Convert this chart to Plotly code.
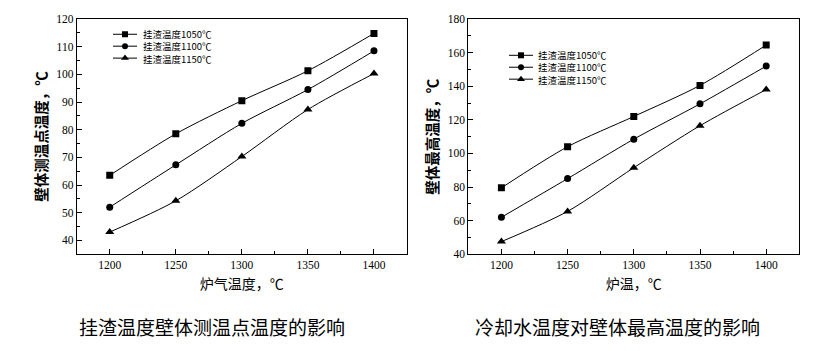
import plotly.graph_objects as go

# ---------------- data ----------------
furnace_temp = [1200, 1250, 1300, 1350, 1400]
series_names = ["挂渣温度1050℃", "挂渣温度1100℃", "挂渣温度1150℃"]

left_1050 = [63.5, 78.5, 90.5, 101.3, 114.8]
left_1100 = [52.0, 67.3, 82.3, 94.5, 108.5]
left_1150 = [43.0, 54.3, 70.3, 87.3, 100.3]

right_1050 = [79.5, 104.0, 122.0, 140.5, 164.5]
right_1100 = [62.0, 85.0, 108.5, 129.5, 152.0]
right_1150 = [47.5, 65.5, 91.5, 116.5, 138.0]

x_ticks = [1200, 1250, 1300, 1350, 1400]
left_y_ticks = [40, 50, 60, 70, 80, 90, 100, 110, 120]
right_y_ticks = [40, 60, 80, 100, 120, 140, 160, 180]

left_title_x = "炉气温度，℃"
left_title_y = "<b>壁体测温点温度，℃</b>"
right_title_x = "炉温，℃"
right_title_y = "<b>壁体最高温度，℃</b>"
caption_left = "挂渣温度壁体测温点温度的影响"
caption_right = "冷却水温度对壁体最高温度的影响"

# ---------------- styling ----------------
W, H = 825, 351
symbols = ["square", "circle", "triangle-up"]
msizes = [7, 7, 8]
tick_font = dict(family="Liberation Serif", size=11.5, color="black")
title_font = dict(family="Noto Sans CJK SC", size=14, color="black")
ytitle_font = dict(family="Noto Sans CJK SC", size=14.5, color="black")
CJK = "Noto Sans CJK SC"
LEG_FS = 9.5
LEG_LINE = LEG_FS * 1.3  # plotly line height for multi-line text

fig = go.Figure()

left_sets = [left_1050, left_1100, left_1150]
right_sets = [right_1050, right_1100, right_1150]

for i, ys in enumerate(left_sets):
    fig.add_trace(go.Scatter(
        x=furnace_temp, y=ys, mode="lines+markers", xaxis="x", yaxis="y",
        line=dict(color="black", width=1, shape="spline", smoothing=0.8),
        marker=dict(symbol=symbols[i], size=msizes[i], color="black"),
        showlegend=False, hoverinfo="skip"))
for i, ys in enumerate(right_sets):
    fig.add_trace(go.Scatter(
        x=furnace_temp, y=ys, mode="lines+markers", xaxis="x2", yaxis="y2",
        line=dict(color="black", width=1, shape="spline", smoothing=0.8),
        marker=dict(symbol=symbols[i], size=msizes[i], color="black"),
        showlegend=False, hoverinfo="skip"))

# ---------------- manual legends (pixel overlay axis) ----------------
legend_specs = [
    dict(x0=113, x1=137, ymid=41.6, tx=142),
    dict(x0=509, x1=533, ymid=63.4, tx=537),
]
for spec in legend_specs:
    for i, name in enumerate(series_names):
        yy = spec["ymid"] + (i - 1) * LEG_LINE
        fig.add_trace(go.Scatter(
            x=[spec["x0"], spec["x1"]], y=[yy, yy], mode="lines",
            xaxis="x3", yaxis="y3", line=dict(color="black", width=1),
            showlegend=False, hoverinfo="skip"))
        fig.add_trace(go.Scatter(
            x=[(spec["x0"] + spec["x1"]) / 2], y=[yy], mode="markers",
            xaxis="x3", yaxis="y3",
            marker=dict(symbol=symbols[i], size=msizes[i] - 1, color="black"),
            showlegend=False, hoverinfo="skip"))
    fig.add_annotation(x=spec["tx"], y=spec["ymid"], xref="x3", yref="y3",
                       text="<br>".join(series_names), showarrow=False,
                       xanchor="left", yanchor="middle", align="left",
                       borderpad=0,
                       font=dict(family=CJK, size=LEG_FS, color="black"))

# ---------------- axes ----------------
common_x = dict(range=[1175, 1425], tickvals=x_ticks, ticks="inside", ticklen=5,
                tickcolor="black", showline=True, linecolor="black", linewidth=1,
                mirror=True, showgrid=False, zeroline=False, tickfont=tick_font,
                minor=dict(ticks="inside", ticklen=3, dtick=25, tick0=1175,
                           tickcolor="black", showgrid=False))
common_y = dict(showline=True, linecolor="black",
                linewidth=1, mirror=True, showgrid=False, zeroline=False,
                tickfont=tick_font)

xd_left = [76.7 / W, 407 / W]
xd_right = [468.3 / W, 799.3 / W]
yd = [1 - 257 / H, 1 - 13.5 / H]

fig.update_layout(
    width=W, height=H, margin=dict(l=0, r=0, t=0, b=0),
    paper_bgcolor="white", plot_bgcolor="rgba(0,0,0,0)",
    xaxis=dict(common_x, domain=xd_left, anchor="y",
               title=dict(text=left_title_x, font=title_font, standoff=9)),
    yaxis=dict(common_y, domain=yd, anchor="x", range=[35, 120],
               tickvals=left_y_ticks, ticks="inside", ticklen=5, tickcolor="black",
               minor=dict(ticks="inside", ticklen=3, dtick=5, tick0=35,
                          tickcolor="black", showgrid=False),
               title=dict(text=left_title_y, font=ytitle_font, standoff=5)),
    xaxis2=dict(common_x, domain=xd_right, anchor="y2",
                title=dict(text=right_title_x, font=title_font, standoff=9)),
    yaxis2=dict(common_y, domain=yd, anchor="x2", range=[40, 180],
                tickvals=right_y_ticks, ticks="inside", ticklen=5, tickcolor="black",
                minor=dict(ticks="inside", ticklen=3, dtick=10, tick0=40,
                           tickcolor="black", showgrid=False),
                title=dict(text=right_title_y, font=ytitle_font, standoff=5)),
    xaxis3=dict(domain=[0, 1], range=[0, W], visible=False, anchor="y3",
                fixedrange=True),
    yaxis3=dict(domain=[0, 1], range=[H, 0], visible=False, anchor="x3",
                fixedrange=True),
    showlegend=False,
)

fig.add_annotation(x=212 / W, y=1 - 332 / H, xref="paper", yref="paper",
                   text=caption_left, showarrow=False, xanchor="center",
                   yanchor="middle", font=dict(family=CJK, size=19, color="black"))
fig.add_annotation(x=617 / W, y=1 - 332 / H, xref="paper", yref="paper",
                   text=caption_right, showarrow=False, xanchor="center",
                   yanchor="middle", font=dict(family=CJK, size=19, color="black"))

fig.write_html("out.html")
